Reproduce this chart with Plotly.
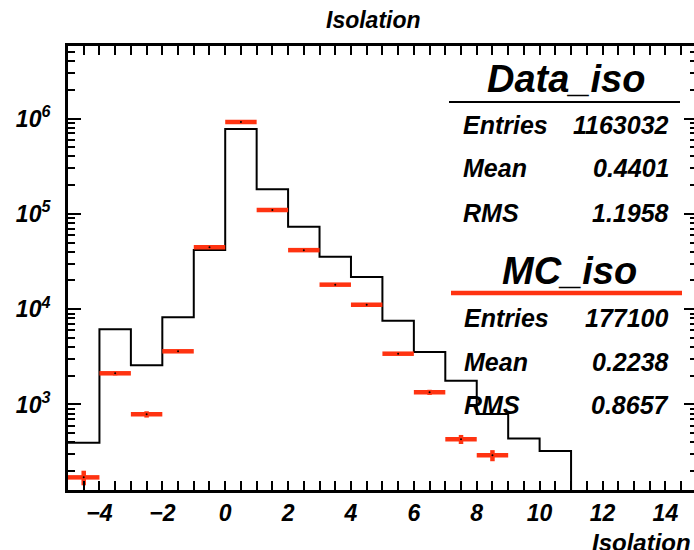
import plotly.graph_objects as go

# Binning: 20 unit-wide bins from -5 to 15
bin_edges = list(range(-5, 16))

# Data_iso histogram contents (black step line)
data_counts = [397, 6150, 2576, 8222, 41700, 776000, 180700, 73300, 35500, 21700,
               7570, 3560, 1770, 795, 441, 325, 0, 0, 0, 0]

# MC_iso histogram contents and errors (red points)
mc_centers = [-4.5, -3.5, -2.5, -1.5, -0.5, 0.5, 1.5, 2.5, 3.5, 4.5, 5.5, 6.5, 7.5, 8.5]
mc_counts = [172, 2124, 789, 3614, 44600, 919000, 109600, 41600, 18070, 11150,
             3410, 1343, 432, 293]
mc_errors = [30, 105, 60, 138, 490, 2200, 760, 470, 310, 240, 134, 84, 47, 39]

# Statistics boxes
data_stats = [("Entries", "1163032"), ("Mean", "0.4401"), ("RMS", "1.1958")]
mc_stats = [("Entries", "177100"), ("Mean", "0.2238"), ("RMS", "0.8657")]

y_ticks = [1e3, 1e4, 1e5, 1e6]
y_ticktext = ["10<sup>3</sup>", "10<sup>4</sup>", "10<sup>5</sup>", "10<sup>6</sup>"]

RED = "#ff3311"
FONT = "Liberation Sans, Arial, sans-serif"
YMIN_LOG, YMAX_LOG = 2.103, 6.7605

# Step line: empty bins are pushed below the visible range so the edge drops to the floor
floor = 10 ** (YMIN_LOG - 1)
step_x = bin_edges
step_y = [c if c > 0 else floor for c in data_counts] + [data_counts[-1] if data_counts[-1] > 0 else floor]

fig = go.Figure()
fig.add_trace(go.Scatter(
    x=step_x, y=step_y, mode="lines", line=dict(color="black", width=2, shape="hv"),
    hoverinfo="skip"))
fig.add_trace(go.Scatter(
    x=mc_centers, y=mc_counts, mode="markers",
    marker=dict(color="black", size=2),
    error_x=dict(type="constant", value=0.5, color=RED, thickness=4.5, width=0),
    error_y=dict(type="data", array=mc_errors, color=RED, thickness=4.5, width=0)))
# placeholder so the right-hand tick axis is rendered
fig.add_trace(go.Scatter(x=[None], y=[None], yaxis="y2", mode="lines", hoverinfo="skip"))

minor_y = [m * 10 ** e for e in range(2, 7) for m in range(2, 10)]
tick_font = dict(family=FONT, size=23, weight="bold", style="italic", color="black")

fig.update_layout(
    width=694, height=550,
    margin=dict(l=68, r=0, t=46, b=60),
    paper_bgcolor="white", plot_bgcolor="white",
    showlegend=False,
    font=dict(family=FONT, color="black", weight="bold", style="italic"),
    xaxis=dict(
        range=[-5, 14.91], showgrid=False, zeroline=False,
        showline=True, linecolor="black", linewidth=3, mirror="allticks",
        ticks="inside", ticklen=9, tickwidth=2, tickcolor="black",
        tickvals=[-4, -2, 0, 2, 4, 6, 8, 10, 12, 14],
        ticktext=["\u22124", "\u22122", "0", "2", "4", "6", "8", "10", "12", "14"],
        tickfont=tick_font,
        ticklabelstandoff=0,
        minor=dict(dtick=0.5, ticks="inside", ticklen=5, tickwidth=2, tickcolor="black", showgrid=False),
    ),
    yaxis=dict(
        type="log", range=[YMIN_LOG, YMAX_LOG], showgrid=False, zeroline=False,
        showline=True, linecolor="black", linewidth=3, mirror=False,
        ticks="inside", ticklen=13, tickwidth=2, tickcolor="black",
        tickvals=y_ticks, ticktext=y_ticktext,
        tickfont=tick_font,
        ticklabelstandoff=10,
        minor=dict(tickvals=minor_y, ticks="inside", ticklen=7, tickwidth=2, tickcolor="black", showgrid=False),
    ),
    # right-hand tick marks only (the frame edge itself lies past the page)
    yaxis2=dict(
        type="log", range=[YMIN_LOG, YMAX_LOG], overlaying="y", side="right", anchor="x",
        showgrid=False, zeroline=False, showline=False, showticklabels=False,
        ticks="inside", ticklen=10, tickwidth=2, tickcolor="black", tickvals=y_ticks,
        minor=dict(tickvals=minor_y, ticks="inside", ticklen=4.5, tickwidth=2, tickcolor="black", showgrid=False),
    ),
)

W, X0, H, YB = 694 - 68, 68, 444, 490


def px(x):
    return (x - X0) / W


def py(y):
    return (YB - y) / H


ann = []
ann.append(dict(text="Isolation", x=px(373.5), y=py(20), font=dict(size=23)))
ann.append(dict(text="Isolation", x=px(590), y=py(542), xanchor="left", font=dict(size=24)))
ann.append(dict(text="Data_iso", x=px(566), y=py(79), font=dict(size=38)))
ann.append(dict(text="MC_iso", x=px(569), y=py(271), font=dict(size=38)))
for (label, val), yy in zip(data_stats, [125, 168, 213]):
    ann.append(dict(text=label, x=px(461), y=py(yy), xanchor="left", font=dict(size=25)))
    ann.append(dict(text=val, x=px(671), y=py(yy), xanchor="right", font=dict(size=25)))
for (label, val), yy in zip(mc_stats, [318, 362, 405]):
    ann.append(dict(text=label, x=px(462), y=py(yy), xanchor="left", font=dict(size=25)))
    ann.append(dict(text=val, x=px(671), y=py(yy), xanchor="right", font=dict(size=25)))
for a in ann:
    a.update(xref="paper", yref="paper", showarrow=False, yanchor="middle")
    a.setdefault("xanchor", "center")
    a["font"].update(family=FONT, color="black", weight="bold", style="italic")
fig.update_layout(annotations=ann)

fig.add_shape(type="line", xref="paper", yref="paper", x0=px(449), x1=px(680), y0=py(102), y1=py(102),
              line=dict(color="black", width=2))
fig.add_shape(type="line", xref="paper", yref="paper", x0=px(451), x1=px(682), y0=py(293), y1=py(293),
              line=dict(color=RED, width=4.5))

fig.write_html("out.html")
